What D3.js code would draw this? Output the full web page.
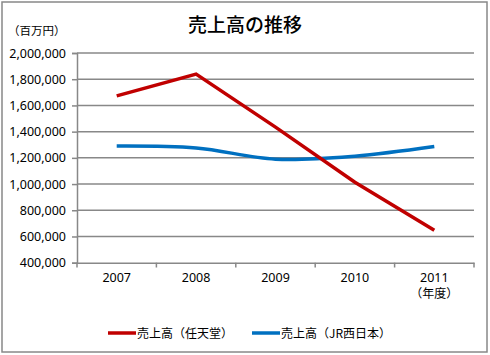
<!DOCTYPE html>
<html><head><meta charset="utf-8">
<script src="https://cdn.jsdelivr.net/npm/d3@7"></script>
<style>body{margin:0;background:#fff}svg{display:block}text{font-family:"Noto Sans CJK JP","Noto Sans",sans-serif;fill:#000}</style>
</head><body><svg id="c" width="490" height="355"></svg>
<script>
const years = ["2007","2008","2009","2010","2011"];
const nintendo = [1672423, 1838622, 1434365, 1014345, 647652];
const jrwest = [1290000, 1275000, 1190000, 1213000, 1286000];
const yTicks = [400000,600000,800000,1000000,1200000,1400000,1600000,1800000,2000000];
const seriesNames = ["売上高(任天堂)","売上高(JR西日本)"];
const colors = ["#C00000","#0070C0"];

const svg = d3.select("#c");
svg.append("rect").attr("x",2).attr("y",2).attr("width",485).attr("height",350)
  .attr("fill","#fff").attr("stroke","#888").attr("stroke-width",1.5);

const x = d3.scaleBand().domain(years).range([77,474]);
const y = d3.scaleLinear().domain([400000,2000000]).range([262.7,53]);

// gridlines
svg.append("g").selectAll("line").data(yTicks.filter(d=>d>400000)).join("line")
  .attr("x1",77).attr("x2",474).attr("y1",d=>y(d)).attr("y2",d=>y(d))
  .attr("stroke","#888").attr("stroke-width",1.5);

const fmt = d3.format(",");
const ya = svg.append("g").attr("transform","translate(77,0)")
  .call(d3.axisLeft(y).tickValues(yTicks).tickFormat(fmt).tickSize(5).tickPadding(6));
ya.select(".domain").attr("stroke","#888").attr("stroke-width",1.5);
ya.selectAll(".tick line").attr("stroke","#888").attr("stroke-width",1.5);
ya.selectAll("text").style("font-size","12.5px").attr("fill","#000").style("font-family","'Noto Sans','DejaVu Sans',sans-serif");

const xa = svg.append("g").attr("transform","translate(0,262.7)")
  .call(d3.axisBottom(x).tickSize(0).tickPadding(10));
xa.select(".domain").attr("stroke","#888").attr("stroke-width",1.5);
xa.selectAll("text").style("font-size","12.5px").attr("fill","#000").style("font-family","'Noto Sans','DejaVu Sans',sans-serif");
// category boundary ticks
svg.append("g").selectAll("line").data(years.map(d=>x(d)).concat([x.range()[1]])).join("line")
  .attr("x1",d=>d).attr("x2",d=>d).attr("y1",262.7).attr("y2",267.5)
  .attr("stroke","#888").attr("stroke-width",1.5);

const cx = d => x(d) + x.bandwidth()/2;
const lineR = d3.line().x((d,i)=>cx(years[i])).y(d=>y(d));
const lineB = d3.line().x((d,i)=>cx(years[i])).y(d=>y(d)).curve(d3.curveCardinal.tension(0));
svg.append("path").datum(jrwest).attr("d",lineB).attr("fill","none")
  .attr("stroke",colors[1]).attr("stroke-width",3.5);
svg.append("path").datum(nintendo).attr("d",lineR).attr("fill","none")
  .attr("stroke",colors[0]).attr("stroke-width",3.5);

svg.append("text").attr("x",245).attr("y",32).attr("text-anchor","middle")
  .style("font-size","19px").style("font-weight","500").text("売上高の推移");
svg.append("text").attr("x",8).attr("y",35).style("font-size","11.5px").text("（百万円）");
svg.append("text").attr("x",cx("2011")).attr("y",298).attr("text-anchor","middle")
  .style("font-size","12px").text("（年度）");

// legend
const lx = [108, 252];
seriesNames.forEach((n,i)=>{
  svg.append("line").attr("x1",lx[i]).attr("x2",lx[i]+28).attr("y1",333).attr("y2",333)
    .attr("stroke",colors[i]).attr("stroke-width",3.5);
  svg.append("text").attr("x",lx[i]+29).attr("y",338).style("font-size","12px")
    .text(n.replace("(","（").replace(")","）"));
});
</script></body></html>
